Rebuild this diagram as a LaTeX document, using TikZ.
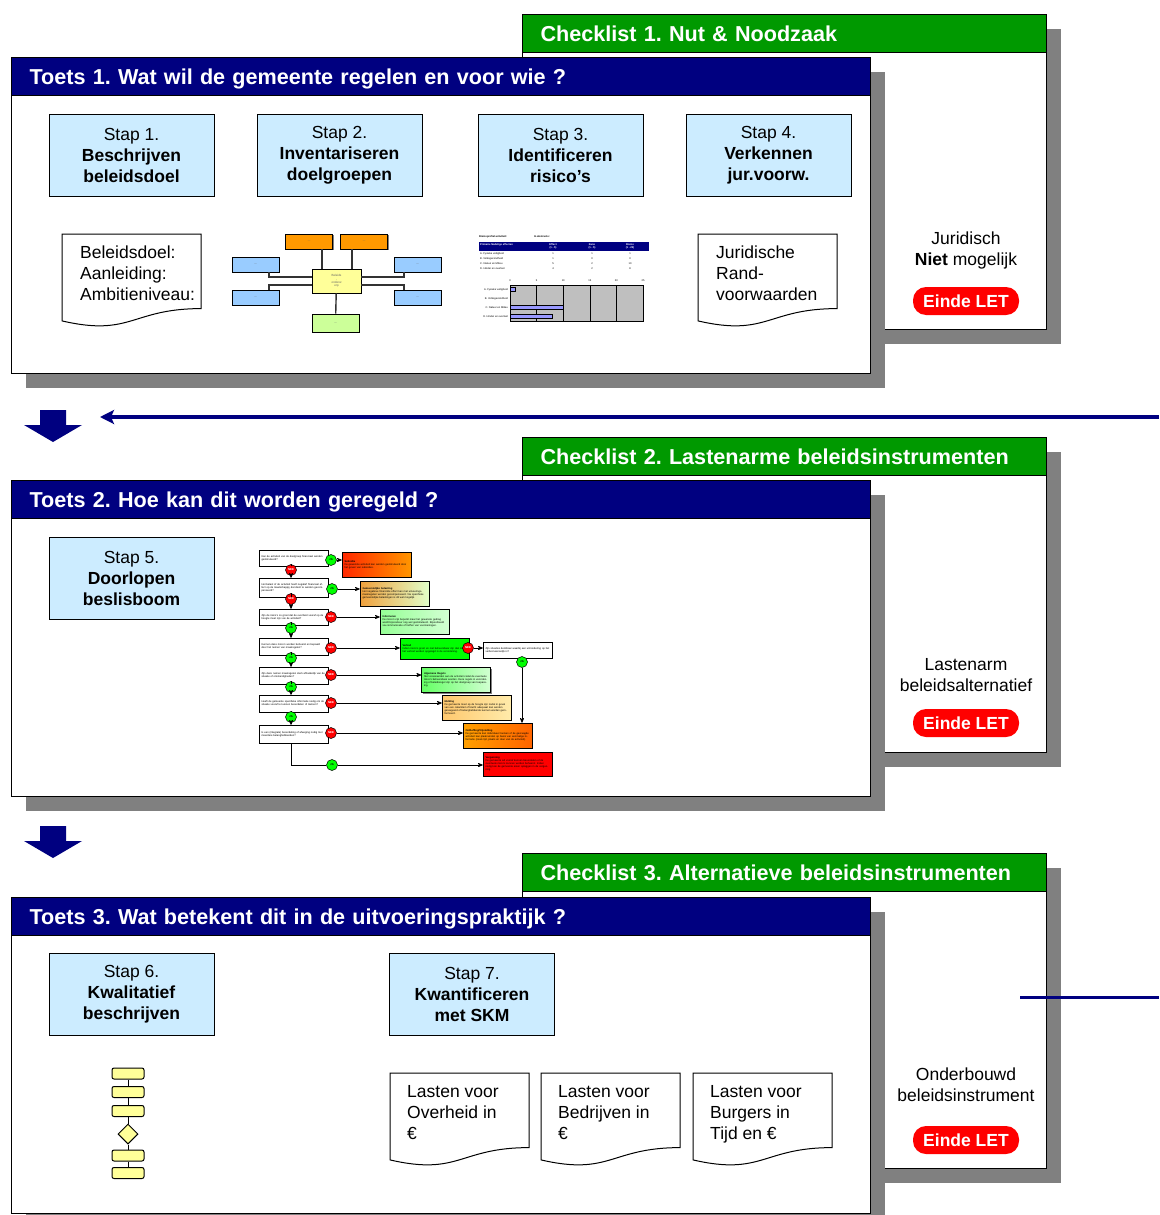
\documentclass[tikz,border=0pt]{standalone}
\usepackage{fontspec}
\setmainfont{Liberation Sans}
\frenchspacing
\usetikzlibrary{
        arrows,
        arrows.meta,
        positioning,
        shadows,
        shapes.geometric
    }
\definecolor{toetsblauw}{RGB}{0,0,128}
\definecolor{checkgroen}{RGB}{0,153,0}
\definecolor{stapblauw}{RGB}{204,236,255}
\definecolor{schaduw}{RGB}{128,128,128}
\definecolor{eindrood}{RGB}{255,0,0}
\definecolor{mmoranje}{RGB}{255,153,0}
\definecolor{mmblauw}{RGB}{153,204,255}
\definecolor{mmgeel}{RGB}{255,255,153}
\definecolor{mmgroen}{RGB}{204,255,153}
\definecolor{staafblauw}{RGB}{153,153,255}
\definecolor{jagroen}{RGB}{0,255,0}
\tikzset{>=stealth',shorten >=0pt}
\tikzset{
  kopfont/.style={font=\bfseries\fontsize{21.6}{26}\selectfont},
  tekst/.style={font=\fontsize{17.5}{21}\selectfont},
  kader/.style={draw, line width=1.2pt, fill=white, anchor=north west, inner sep=0pt,
    drop shadow={shadow xshift=14pt, shadow yshift=-14pt, fill=schaduw, opacity=1}},
  checkkader/.style={kader, minimum width=524pt, minimum height=315pt},
  toetskader/.style={kader, minimum width=859pt, minimum height=316pt},
  checkkop/.style={draw, line width=1.2pt, fill=checkgroen, text=white, kopfont, anchor=north west,
    minimum width=524pt, minimum height=38pt, text width=488pt, inner xsep=18pt, inner ysep=0pt,
    text height=17pt, text depth=2pt, align=left},
  toetskop/.style={checkkop, fill=toetsblauw, minimum width=859pt, text width=823pt},
  stapbox/.style={draw, line width=1pt, fill=stapblauw, minimum width=165pt, minimum height=82pt,
    align=center, tekst, inner sep=2pt},
  einde/.style={fill=eindrood, text=white, font=\bfseries\fontsize{17.5}{21}\selectfont,
    rounded corners=13pt, minimum width=106pt, minimum height=28pt},
  docline/.style={draw, line width=1pt, fill=white},
  doctekst/.style={tekst, anchor=north west, align=left, inner sep=4pt},
  mmbox/.style={draw, line width=0.8pt, minimum width=47pt, minimum height=15pt, inner sep=0pt,
    font=\fontsize{2.5}{3}\selectfont, text=black!60,
    drop shadow={shadow xshift=1.2pt, shadow yshift=-1.2pt, fill=schaduw, opacity=1}},
  mmlijn/.style={draw, line width=1.4pt, black!80},
  boomfont/.style={font=\fontsize{2.6}{3.1}\selectfont},
  vraag/.style={draw, fill=white, line width=0.5pt, minimum width=69pt, text width=64pt, align=left,
    boomfont, inner sep=1.5pt,
    drop shadow={shadow xshift=1pt, shadow yshift=-1pt, fill=schaduw, opacity=1}},
  antwoord/.style={draw, line width=0.6pt, minimum width=69pt, minimum height=25pt, text width=64pt,
    align=left, boomfont, inner sep=1.5pt,
    drop shadow={shadow xshift=1pt, shadow yshift=-1pt, fill=schaduw, opacity=1}},
  janode/.style={circle, draw, line width=0.5pt, fill=jagroen, minimum size=11pt, inner sep=0pt,
    font=\bfseries\fontsize{2.8}{3}\selectfont},
  neenode/.style={janode, fill=eindrood, text=white},
  boomlijn/.style={draw, line width=0.7pt},
  navylijn/.style={draw=toetsblauw, line width=4pt},
  fbox/.style={draw, line width=1pt, fill=mmgeel, rounded corners=2pt, minimum width=32pt,
    minimum height=11pt, inner sep=0pt},
  tabtekst/.style={font=\fontsize{2.6}{3}\selectfont, inner sep=0pt}
}
\begin{document}
\begin{tikzpicture}[x=1pt,y=-1pt]
\useasboundingbox[fill=white] (0,0) rectangle (1159,1215);

% ---------------- Toets 1 ----------------
\node[checkkader] (cl1) at (522,14) {};
\node[checkkop] (cl1k) at (522,14) {Checklist 1. Nut \& Noodzaak};
\node[tekst, align=center] (cl1t) at (966,250) {Juridisch\\\textbf{Niet} mogelijk};
\node[einde] (cl1e) at (966,301) {Einde LET};

\node[toetskader] (t1) at (11,57) {};
\node[toetskop] (t1k) at (11,57) {Toets 1. Wat wil de gemeente regelen en voor wie ?};

\node[stapbox] (s1) at (131.5,155.5) {Stap 1.\\\textbf{Beschrijven}\\\textbf{beleidsdoel}};
\node[stapbox, right=42pt of s1] (s2) {Stap 2.\\\textbf{Inventariseren}\\\textbf{doelgroepen}};
\node[stapbox, right=55pt of s2] (s3) {Stap 3.\\\textbf{Identificeren}\\\textbf{risico’s}};
\node[stapbox, right=42pt of s3] (s4) {Stap 4.\\\textbf{Verkennen}\\\textbf{jur.voorw.}};

% documenten
\foreach \dx/\dy/\dn/\dtekst in {62/234/doc1/{Beleidsdoel:\\Aanleiding:\\Ambitieniveau:},
    698/234/doc2/{Juridische\\Rand-\\voorwaarden}}{
  \draw[docline] (\dx,\dy) -- ++(139,0) -- ++(0,74.6)
     .. controls +(-69.5,0) and +(69.5,16.1) .. ++(-139,12.3) -- cycle;
  \node[doctekst] (\dn) at (\dx+14,\dy+8) {\dtekst};
}

% doelgroepen schema
\node[mmbox, fill=mmgeel, minimum width=49pt, minimum height=24pt, align=center,
      font=\fontsize{3}{3.4}\selectfont] (mC) at (336.5,281) {Beleids\\-\\onderw\\erp};
\node[mmbox, fill=mmoranje] (mO1) at (309,241.5) {---};
\node[mmbox, fill=mmoranje] (mO2) at (364,241.5) {---};
\node[mmbox, fill=mmblauw] (mB1) at (255.5,264.5) {---};
\node[mmbox, fill=mmblauw] (mB2) at (255.5,297.5) {---};
\node[mmbox, fill=mmblauw] (mB3) at (417.5,264.5) {---};
\node[mmbox, fill=mmblauw] (mB4) at (417.5,297.5) {---};
\node[mmbox, fill=mmgroen, minimum height=18pt] (mG) at (335.5,323) {---};
\draw[mmlijn] (mO1.south -| 322,0) -- (mC.north -| 322,0);
\draw[mmlijn] (mO2.south -| 352,0) -- (mC.north -| 352,0);
\draw[mmlijn] (mB1.south -| 269,0) |- ([yshift=4pt]mC.west);
\draw[mmlijn] (mB2.north -| 269,0) |- ([yshift=-4pt]mC.west);
\draw[mmlijn] (mB3.south -| 404,0) |- ([yshift=4pt]mC.east);
\draw[mmlijn] (mB4.north -| 404,0) |- ([yshift=-4pt]mC.east);
\draw[mmlijn] (mC) -- (mG);

% risicoprofiel
\begin{scope}[every node/.style={tabtekst}]
\node[anchor=west] (rpTitel) at (479,237) {\textbf{Risicoprofiel activiteit:}};
\node[anchor=west] (rpAbs) at (534,237) {\textbf{In abstracto:}};
\fill[toetsblauw] (479,242) rectangle (649,251);
\node[anchor=west, text=white] (rpKop) at (480,244.5) {\textbf{Primaire Nadelige effecten}};
\foreach \kx/\kn/\kt/\kb in {553/rpEff/Effect/(1 - 5), 592/rpKans/Kans/(1 - 5), 630/rpRis/Risico/(1 - 25)}{
  \node[text=white, align=center] (\kn) at (\kx,246.5) {\textbf{\kt}\\\textbf{\kb}};
}
\foreach \ry/\rn/\rt/\re/\rk/\rr in {253.5/rpA/A. Fysieke veiligheid/1/1/1,
    258.5/rpB/B. Volksgezondheid/1/0/0,
    263.5/rpC/C. Natuur en Milieu/5/2/10,
    268.5/rpD/D. Hinder en overlast/4/2/8}{
  \node[anchor=west] (\rn) at (480,\ry) {\rt};
  \node (\rn-e) at (553,\ry) {\re};
  \node (\rn-k) at (592,\ry) {\rk};
  \node (\rn-r) at (630,\ry) {\rr};
}
\fill[gray!50] (510,285) rectangle (643,321);
\foreach \g in {0,5,...,25}{
  \draw[line width=0.6pt] (510+\g*5.32,285) -- (510+\g*5.32,321);
  \node (as\g) at (510+\g*5.32,281) {\g};
}
\draw[line width=0.4pt] (510,285) rectangle (643,321);
\filldraw[fill=staafblauw, line width=0.4pt] (510,287.5) rectangle (515.3,291.5);
\filldraw[fill=staafblauw, line width=0.4pt] (510,305.5) rectangle (563.2,309.5);
\filldraw[fill=staafblauw, line width=0.4pt] (510,314.5) rectangle (552.6,318.5);
\foreach \cy/\cn/\ct in {289.5/grA/A. Fysieke veiligheid, 298.5/grB/B. Volksgezondheid,
    307.5/grC/C. Natuur en Milieu, 316.5/grD/D. Hinder en overlast}{
  \node[anchor=east] (\cn) at (508,\cy) {\ct};
}
\end{scope}

% pijlen tussen toetsen
\fill[toetsblauw] (40,410) -- (66,410) -- (66,425) -- (82,425) -- (53,442) -- (24,425) -- (40,425) -- cycle;
\coordinate (terugStart) at (1159,417);
\coordinate (terugEind) at (100,417);
\draw[navylijn,-{Stealth[length=14pt,width=14pt,inset=3pt]}] (terugStart) -- (terugEind);

% ---------------- Toets 2 ----------------
\node[checkkader] (cl2) at (522,437) {};
\node[checkkop] (cl2k) at (522,437) {Checklist 2. Lastenarme beleidsinstrumenten};
\node[tekst, align=center] (cl2t) at (966,675) {Lastenarm\\beleidsalternatief};
\node[einde] (cl2e) at (966,723) {Einde LET};

\node[toetskader] (t2) at (11,480) {};
\node[toetskop] (t2k) at (11,480) {Toets 2. Hoe kan dit worden geregeld ?};
\node[stapbox] (s5) at (131.5,578.5) {Stap 5.\\\textbf{Doorlopen}\\\textbf{beslisboom}};

% beslisboom
\node[vraag, minimum height=16pt] (q1) at (293.5,558) {Kan de activiteit van de doelgroep financieel worden gestimuleerd?};
\node[vraag, minimum height=19pt] (q2) at (293.5,587.5) {Het belast of de activiteit heeft negatief financieel effect op de maatschappij, dat dient te worden gecompenseerd?};
\node[vraag, minimum height=16pt] (q3) at (293.5,617) {Zijn de risico’s zo groot dat de overheid vooraf op de hoogte moet zijn van de activiteit?};
\node[vraag, minimum height=17pt] (q4) at (293.5,646.5) {Kunnen deze risico’s worden beheerst en bepaald door het nemen van maatregelen?};
\node[vraag, minimum height=17pt] (q5) at (293.5,675.5) {Zijn deze nemen maatregelen sterk afhankelijk van de situatie of omstandigheden?};
\node[vraag, minimum height=17pt] (q6) at (293.5,703.5) {Heeft de gemeente specifieke informatie nodig om de situatie vooraf te kunnen beoordelen of toetsen?};
\node[vraag, minimum height=18pt] (q7) at (293.5,734) {Is een (integrale) beoordeling of afweging nodig met meerdere belanghebbenden?};

\node[antwoord, left color={rgb,255:red,255;green,40;blue,0}, right color={rgb,255:red,255;green,150;blue,0}] (aSub) at (376.5,564.5)
  {\textbf{Subsidie}\\De gewenste activiteit kan worden gestimuleerd door het geven van subsidies.};
\node[antwoord, left color={rgb,255:red,240;green,160;blue,60}, right color={rgb,255:red,225;green,255;blue,200}] (aBel) at (394.5,593.5)
  {\textbf{Gemeentelijke belasting}\\Het negatieve financiële effect kan met uitvoeringsmaatregelen worden gecompenseerd. Via specifieke gemeentelijke belastingen is dit wel mogelijk.};
\node[antwoord, left color={rgb,255:red,150;green,255;blue,150}, right color={rgb,255:red,210;green,255;blue,210}] (aInf) at (414.5,621.5)
  {\textbf{Informeren}\\De risico’s zijn beperkt maar het gewenste gedrag wordt bijvoorkeur nog wel gestimuleerd. Bijvoorbeeld via communicatie of treffen van voorzieningen.};
\node[antwoord, fill=jagroen, minimum height=21pt] (aVer) at (434.5,648.5)
  {\textbf{Verbod}\\Indien risico’s groot en niet beheersbaar zijn dan kan het verbod worden opgelegd in de verordening.};
\node[antwoord, left color={rgb,255:red,100;green,255;blue,100}, right color={rgb,255:red,210;green,255;blue,210}] (aAlg) at (456,680)
  {\textbf{Algemene Regels}\\Stel voorwaarden aan de activiteit zodat de eventuele risico’s beheersbaar worden. Deze regels in verordening of beleidsregel zijn op het doelgroep van toepassing.};
\node[antwoord, left color={rgb,255:red,255;green,200;blue,110}, right color={rgb,255:red,255;green,235;blue,170}] (aMel) at (476.5,707.5)
  {\textbf{Melding}\\De gemeente moet op de hoogte zijn zodat in geval van een calamiteit of klacht adequaat kan worden gereageerd of belanghebbende kunnen worden geïnformeerd.};
\node[antwoord, left color={rgb,255:red,255;green,160;blue,0}, right color={rgb,255:red,255;green,100;blue,0}] (aOnt) at (497.5,735.5)
  {\textbf{Ontheffing/Vrijstelling}\\De gemeente kan individueel toetsen of de gevraagde activiteit kan plaatsvinden op basis van eenmalige informatie (zoals tijd, plaats en duur van de activiteit).};
\node[antwoord, fill=eindrood, minimum height=24pt] (aVerg) at (517.5,764)
  {\textbf{Vergunning}\\De gemeente wil vooraf kunnen beoordelen of de eventuele risico’s kunnen worden beheerst. Indien nodig kan de gemeente eisen opleggen in de vergunning.};
\node[vraag, minimum height=16pt] (q8) at (517.5,650) {Zijn situaties denkbaar waarbij een uitzondering op het verbod wenselijk is?};

\node[janode] (c1j) at (331,560) {JA};
\node[neenode] (c1n) at (291,570) {NEE};
\node[janode] (c2j) at (332,589) {JA};
\node[neenode] (c2n) at (291,599) {NEE};
\node[neenode] (c3n) at (331,617) {NEE};
\node[janode] (c3j) at (291,628) {JA};
\node[neenode] (c4n) at (331,648) {NEE};
\node[janode] (c4j) at (291,658) {JA};
\node[neenode] (c5n) at (331,675) {NEE};
\node[janode] (c5j) at (291,687) {JA};
\node[neenode] (c6n) at (331,703) {NEE};
\node[janode] (c6j) at (291,717) {JA};
\node[neenode] (c7n) at (331,733) {NEE};
\node[janode] (c7j) at (332,765) {JA};
\node[neenode] (cVn) at (468,648) {NEE};
\node[janode] (cVj) at (522,662) {JA};

\foreach \boven/\c/\onder in {q1/c1n/q2, q2/c2n/q3, q3/c3j/q4, q4/c4j/q5, q5/c5j/q6, q6/c6j/q7}{
  \draw[boomlijn] (\boven.south -| \c) -- (\c);
  \draw[boomlijn,->] (\c) -- (\onder.north -| \c);
}
\foreach \c/\a in {c1j/aSub, c2j/aBel, c3n/aInf, c4n/aVer, c5n/aAlg, c6n/aMel, c7n/aOnt, c7j/aVerg, cVn/q8}{
  \draw[boomlijn,->] (\c) -- (\c -| \a.west);
}
\draw[boomlijn] (q7.south -| c6j) |- (c7j);
\draw[boomlijn,->] (cVj) -- (cVj |- aOnt.north);

% pijl naar toets 3
\fill[toetsblauw] (40,826) -- (66,826) -- (66,841) -- (82,841) -- (53,858) -- (24,841) -- (40,841) -- cycle;

% ---------------- Toets 3 ----------------
\node[checkkader] (cl3) at (522,853) {};
\node[checkkop] (cl3k) at (522,853) {Checklist 3. Alternatieve beleidsinstrumenten};
\node[tekst, align=center] (cl3t) at (966,1085) {Onderbouwd\\beleidsinstrument};
\node[einde] (cl3e) at (966,1140) {Einde LET};
\coordinate (lijnStart) at (1020,997);
\coordinate (lijnEind) at (1159,997);
\draw[navylijn, line width=3pt] (lijnStart) -- (lijnEind);

\node[toetskader] (t3) at (11,897) {};
\node[toetskop] (t3k) at (11,897) {Toets 3. Wat betekent dit in de uitvoeringspraktijk ?};
\node[stapbox] (s6) at (131.5,994.5) {Stap 6.\\\textbf{Kwalitatief}\\\textbf{beschrijven}};
\node[stapbox] (s7) at (472,994.5) {Stap 7.\\\textbf{Kwantificeren}\\\textbf{met SKM}};

\foreach \dx/\dy/\dn/\dtekst in {390/1073/doc3/{Lasten voor\\Overheid in\\€},
    541/1073/doc4/{Lasten voor\\Bedrijven in\\€},
    693/1073/doc5/{Lasten voor\\Burgers in\\Tijd en €}}{
  \draw[docline] (\dx,\dy) -- ++(139,0) -- ++(0,74.6)
     .. controls +(-69.5,0) and +(69.5,16.1) .. ++(-139,12.3) -- cycle;
  \node[doctekst] (\dn) at (\dx+13,\dy+8) {\dtekst};
}

% processchema
\node[fbox] (f1) at (128,1073.5) {};
\node[fbox] (f2) at (128,1092) {};
\node[fbox] (f3) at (128,1111) {};
\node[diamond, draw, line width=1pt, fill=mmgeel, minimum width=20pt, minimum height=20pt, inner sep=0pt] (fD) at (128,1134) {};
\node[fbox] (f4) at (128,1155.5) {};
\node[fbox] (f5) at (128,1173) {};
\draw[line width=1pt] (f1) -- (f2) -- (f3) -- (fD) -- (f4) -- (f5);
\end{tikzpicture}
\end{document}
